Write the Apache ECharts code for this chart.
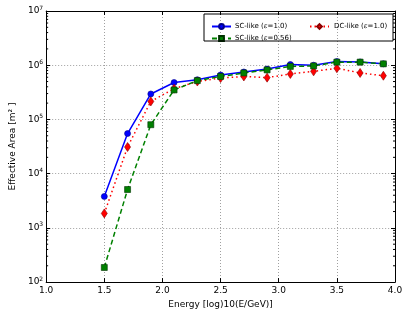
<!DOCTYPE html>
<html><head><meta charset="utf-8">
<script src="https://cdn.jsdelivr.net/npm/echarts@6/dist/echarts.min.js"></script>
<style>html,body{margin:0;padding:0;background:#fff}#c{width:407px;height:314px}</style>
</head><body><div id="c"></div>
<script>
const energy = [1.5, 1.7, 1.9, 2.1, 2.3, 2.5, 2.7, 2.9, 3.1, 3.3, 3.5, 3.7, 3.9];
const scLike10 = [3.8e3, 5.5e4, 2.95e5, 4.8e5, 5.4e5, 6.6e5, 7.5e5, 8.5e5, 1.03e6, 1.0e6, 1.17e6, 1.15e6, 1.06e6];
const scLike056 = [186, 5.1e3, 8.0e4, 3.5e5, 5.2e5, 6.2e5, 7.2e5, 8.2e5, 9.5e5, 9.7e5, 1.14e6, 1.14e6, 1.06e6];
const dcLike10 = [1.85e3, 3.1e4, 2.15e5, 3.7e5, 5.0e5, 5.8e5, 6.2e5, 5.9e5, 6.9e5, 7.7e5, 8.8e5, 7.2e5, 6.4e5];
const xTickLabels = ['1.0', '1.5', '2.0', '2.5', '3.0', '3.5', '4.0'];

const FONT = 'DejaVu Sans';
const minorVals = [];
for (let k = 2; k < 7; k++) for (let m = 2; m <= 9; m++) minorVals.push([1.0, m * Math.pow(10, k)]);

function pairs(ys) { return energy.map((x, i) => [x, ys[i]]); }

const chart = echarts.init(document.getElementById('c'));
const rich = { e: { fontStyle: 'italic', fontFamily: 'DejaVu Serif', fontSize: 7, color: '#000' } };
function legendFmt(name) { return name.replace('ε', '{e|ε}'); }

chart.setOption({
  animation: false,
  grid: { left: 42, right: 12, top: 11, bottom: 31 },
  xAxis: [{
    type: 'value', min: 1.0, max: 4.0, interval: 0.5,
    name: 'Energy [log)10(E/GeV)]', nameLocation: 'middle', nameGap: 14,
    nameTextStyle: { fontFamily: FONT, fontSize: 9, color: '#000' },
    axisLine: { lineStyle: { color: '#000', width: 1 } },
    axisTick: { inside: true, length: 4, lineStyle: { color: '#000' } },
    axisLabel: { fontFamily: FONT, fontSize: 9, color: '#000', margin: 4,
      formatter: v => xTickLabels[Math.round((v - 1.0) / 0.5)] },
    splitLine: { show: true, lineStyle: { type: [1, 2], color: '#888', width: 0.8 } }
  }, {
    type: 'value', min: 1.0, max: 4.0, interval: 0.5, position: 'top',
    axisLine: { lineStyle: { color: '#000', width: 1 } },
    axisTick: { inside: true, length: 4, lineStyle: { color: '#000' } },
    axisLabel: { show: false }, splitLine: { show: false }
  }],
  yAxis: [{
    type: 'log', logBase: 10, min: 100, max: 1e7,
    name: 'Effective Area [m² ]', nameLocation: 'middle', nameGap: 27,
    nameTextStyle: { fontFamily: FONT, fontSize: 9, color: '#000' },
    axisLine: { show: true, lineStyle: { color: '#000', width: 1 } },
    axisTick: { inside: true, length: 4, lineStyle: { color: '#000' } },
    axisLabel: { fontFamily: FONT, fontSize: 9, color: '#000', margin: 3,
      formatter: v => '10{s|' + Math.round(Math.log10(v)) + '}',
      rich: { s: { fontSize: 6, verticalAlign: 'top', padding: [0, 0, 6, 0], fontFamily: FONT, color: '#000' } } },
    splitLine: { show: true, lineStyle: { type: [1, 2], color: '#888', width: 0.8 } }
  }, {
    type: 'log', logBase: 10, min: 100, max: 1e7, position: 'right',
    axisLine: { show: true, lineStyle: { color: '#000', width: 1 } },
    axisTick: { inside: true, length: 4, lineStyle: { color: '#000' } },
    axisLabel: { show: false }, splitLine: { show: false }
  }],
  legend: [{
    orient: 'vertical', left: 206, top: 18, itemWidth: 19, itemHeight: 6, itemGap: 5,
    data: ['SC-like (ε=1.0)', 'SC-like (ε=0.56)'], formatter: legendFmt,
    textStyle: { fontFamily: FONT, fontSize: 7, color: '#000', rich: rich, padding: [0, 0, 0, -1] }
  }, {
    orient: 'vertical', left: 304, top: 18, itemWidth: 19, itemHeight: 6, itemGap: 5,
    data: ['DC-like (ε=1.0)'], formatter: legendFmt,
    textStyle: { fontFamily: FONT, fontSize: 7, color: '#000', rich: rich }
  }],
  graphic: [{
    type: 'rect', shape: { x: 204, y: 14, width: 189, height: 27 },
    style: { fill: 'rgba(255,255,255,0)', stroke: '#000', lineWidth: 1 }, z: 100
  }],
  series: [{
    type: 'custom', silent: true, data: minorVals, z: 5,
    renderItem: (params, api) => {
      const p1 = api.coord([1.0, api.value(1)]);
      const p2 = api.coord([4.0, api.value(1)]);
      return { type: 'group', children: [
        { type: 'line', shape: { x1: p1[0], y1: p1[1], x2: p1[0] + 2, y2: p1[1] }, style: { stroke: '#000', lineWidth: 1 } },
        { type: 'line', shape: { x1: p2[0], y1: p2[1], x2: p2[0] - 2, y2: p2[1] }, style: { stroke: '#000', lineWidth: 1 } }
      ] };
    }
  }, {
    name: 'SC-like (ε=1.0)', type: 'line', data: pairs(scLike10), z: 10,
    symbol: 'circle', symbolSize: 6,
    lineStyle: { color: '#0000ff', width: 1.5 },
    itemStyle: { color: '#0000ff', borderColor: '#00008b', borderWidth: 0.6 }
  }, {
    name: 'DC-like (ε=1.0)', type: 'line', data: pairs(dcLike10), z: 11,
    symbol: 'diamond', symbolSize: [6, 9],
    lineStyle: { color: '#ff0000', width: 1.5, type: [1.5, 3] },
    itemStyle: { color: '#ff0000', borderColor: '#8b0000', borderWidth: 0.6 }
  }, {
    name: 'SC-like (ε=0.56)', type: 'line', data: pairs(scLike056), z: 12,
    symbol: 'rect', symbolSize: 6,
    lineStyle: { color: '#008000', width: 1.5, type: [5, 3] },
    itemStyle: { color: '#008000', borderColor: '#003300', borderWidth: 0.6 }
  }]
});
</script></body></html>
